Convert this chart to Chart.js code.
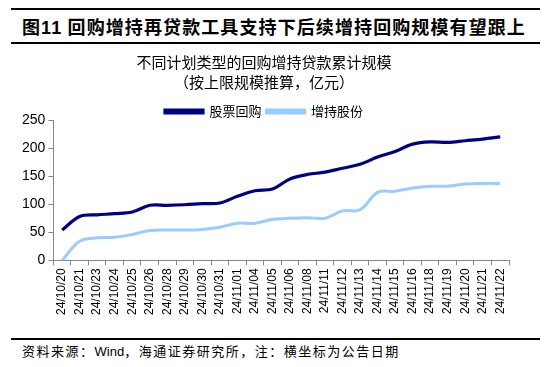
<!DOCTYPE html>
<html>
<head>
<meta charset="utf-8">
<script src="https://cdn.jsdelivr.net/npm/chart.js@4/dist/chart.umd.min.js"></script>
<style>
body{margin:0;width:550px;height:367px;background:#fff;position:relative;overflow:hidden;font-family:"Noto Sans CJK SC",sans-serif;}
.rule{position:absolute;left:11px;width:529px;height:2px;background:#000;}
#title{position:absolute;left:22px;top:14px;font-size:18px;line-height:24px;font-weight:bold;color:#000;letter-spacing:1.1px;white-space:nowrap;}
#src{position:absolute;left:22px;top:342px;font-size:13px;line-height:18px;color:#000;letter-spacing:1.5px;white-space:nowrap;}
#wrap{position:absolute;left:0;top:50px;width:550px;height:268px;}
</style>
</head>
<body>
<div class="rule" style="top:8px"></div>
<div id="title">图<span style="font-family:'Liberation Sans'">11</span> 回购增持再贷款工具支持下后续增持回购规模有望跟上</div>
<div class="rule" style="top:42px"></div>
<div id="wrap"><canvas id="c"></canvas></div>
<div class="rule" style="top:338px"></div>
<div id="src">资料来源：<span style="font-family:'Liberation Sans';letter-spacing:0">Wind</span>，海通证券研究所，注：横坐标为公告日期</div>
<script>
/* DATA */
const dates=["24/10/20","24/10/21","24/10/23","24/10/24","24/10/25","24/10/26","24/10/28","24/10/29","24/10/30","24/10/31","24/11/01","24/11/04","24/11/05","24/11/06","24/11/08","24/11/11","24/11/12","24/11/13","24/11/14","24/11/15","24/11/16","24/11/18","24/11/19","24/11/20","24/11/21","24/11/22"];
const buyback=[54,78,81,83,86,98,98,99,101,102,114,124,127,145,153,157,164,171,184,194,207,211,210,213,216,220];
const holding=[0,34,40,41,46,53,54,54,55,59,66,66,73,75,76,75,88,90,121,123,129,132,132,136,137,137];
const yTicks=[0,50,100,150,200,250];

const cjk="'Noto Sans CJK SC'";

// legend sits a bit lower, close to the plot top
const legendShift={
id:"legendShift",
afterLayout(chart){
chart.legend.top+=8;
chart.legend.bottom+=8;
}
};

new Chart(document.getElementById("c"),{
type:"line",
data:{
labels:dates,
datasets:[{
label:"股票回购",
data:buyback,
borderColor:"#000080",
backgroundColor:"#000080",
borderWidth:3.2,
pointRadius:0,
tension:0.35
},{
label:"增持股份",
data:holding,
borderColor:"#99ccff",
backgroundColor:"#99ccff",
borderWidth:3,
pointRadius:0,
tension:0.35
}]
},
options:{
responsive:true,
maintainAspectRatio:false,
animation:false,
layout:{padding:{left:19,right:41,top:0,bottom:0}},
plugins:{
title:{
display:true,
text:["不同计划类型的回购增持贷款累计规模","（按上限规模推算，亿元）"],
color:"#000",
font:{family:cjk,size:15,weight:"normal",lineHeight:1.3},
padding:{top:3,bottom:0}
},
legend:{
position:"top",
labels:{
color:"#000",
font:{family:cjk,size:13},
boxWidth:38,
boxHeight:3,
padding:5
}
},
tooltip:{enabled:false}
},
scales:{
x:{
offset:true,
grid:{display:true,drawOnChartArea:false,offset:true,color:"#888",tickLength:5},
border:{color:"#888"},
ticks:{
color:"#000",
minRotation:90,
maxRotation:90,
autoSkip:false,
font:{family:"'Liberation Sans'",size:12}
}
},
y:{
min:0,
max:250,
afterBuildTicks:axis=>{axis.ticks=yTicks.map(v=>({value:v}));},
grid:{display:true,drawOnChartArea:false,color:"#888",tickLength:5},
border:{color:"#888"},
ticks:{
color:"#000",
font:{family:"'Liberation Sans'",size:14}
}
}
}
},
plugins:[legendShift]
});
</script>
</body>
</html>
